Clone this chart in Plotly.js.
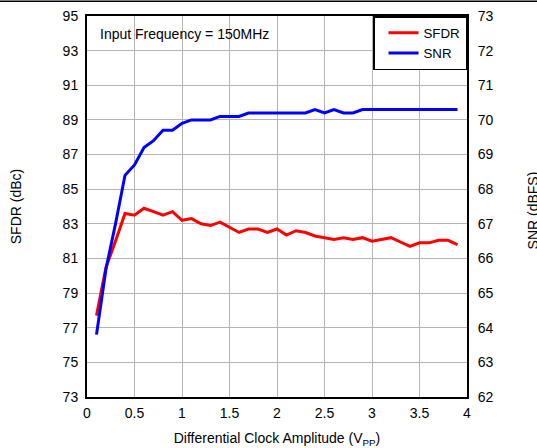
<!DOCTYPE html>
<html>
<head>
<meta charset="utf-8">
<script src="https://cdn.plot.ly/plotly-3.0.1.min.js"></script>
<style>
html,body{margin:0;padding:0;background:#fff;}
#chart{width:537px;height:448px;}
</style>
</head>
<body>
<div id="chart"></div>
<script>
// Differential clock amplitude (Vpp)
const amplitude = [0.1,0.2,0.3,0.4,0.5,0.6,0.7,0.8,0.9,1.0,1.1,1.2,1.3,1.4,1.5,1.6,1.7,1.8,1.9,2.0,2.1,2.2,2.3,2.4,2.5,2.6,2.7,2.8,2.9,3.0,3.1,3.2,3.3,3.4,3.5,3.6,3.7,3.8,3.9];
// SFDR (dBc), left axis
const sfdr = [77.7,80.5,82.0,83.6,83.5,83.9,83.7,83.5,83.7,83.2,83.3,83.0,82.9,83.1,82.8,82.5,82.7,82.7,82.5,82.7,82.35,82.6,82.5,82.3,82.2,82.1,82.2,82.1,82.2,82.0,82.1,82.2,81.95,81.7,81.9,81.9,82.05,82.05,81.8];
// SNR (dBFS), right axis
const snr = [63.8,65.7,67.0,68.4,68.7,69.2,69.4,69.7,69.7,69.9,70.0,70.0,70.0,70.1,70.1,70.1,70.2,70.2,70.2,70.2,70.2,70.2,70.2,70.3,70.2,70.3,70.2,70.2,70.3,70.3,70.3,70.3,70.3,70.3,70.3,70.3,70.3,70.3,70.3];
const xTicks = [0,0.5,1,1.5,2,2.5,3,3.5,4];
const xTickText = ['0','0.5','1','1.5','2','2.5','3','3.5','4'];
const leftTicks = [73,75,77,79,81,83,85,87,89,91,93,95];
const rightTicks = [62,63,64,65,66,67,68,69,70,71,72,73];

const FONT = '"Liberation Sans", Arial, sans-serif';

const traces = [
  {x: amplitude, y: sfdr, name: 'SFDR', type: 'scatter', mode: 'lines',
   line: {color: '#ff0000', width: 3}, yaxis: 'y'},
  {x: amplitude, y: snr, name: 'SNR', type: 'scatter', mode: 'lines',
   line: {color: '#0000ff', width: 3}, yaxis: 'y2'}
];

const layout = {
  width: 537, height: 448,
  margin: {l: 87, r: 70, t: 16, b: 51, pad: 0},
  paper_bgcolor: '#fff', plot_bgcolor: '#fff',
  font: {family: FONT, size: 14, color: '#000'},
  showlegend: true,
  legend: {x: 1, y: 1, xanchor: 'right', yanchor: 'top',
    bgcolor: '#fff', bordercolor: '#000', borderwidth: 1.5,
    font: {family: FONT, size: 13.3, color: '#000'},
    tracegroupgap: 0, itemwidth: 30, indentation: 9},
  xaxis: {
    range: [0, 4], tickvals: xTicks, ticktext: xTickText,
    showgrid: true, gridcolor: '#b4b4b4', gridwidth: 1,
    showline: true, linecolor: '#000', linewidth: 2, mirror: true,
    ticks: 'outside', ticklen: 2, tickcolor: 'rgba(0,0,0,0)',
    zeroline: false, fixedrange: true,
    title: {text: 'Differential Clock Amplitude (V<sub>PP</sub>)', font: {family: FONT, size: 14}, standoff: 18}
  },
  yaxis: {
    range: [73, 95], tickvals: leftTicks,
    showgrid: true, gridcolor: '#b4b4b4', gridwidth: 1,
    showline: true, linecolor: '#000', linewidth: 2, mirror: true,
    ticks: 'outside', ticklen: 4, tickcolor: 'rgba(0,0,0,0)',
    zeroline: false, fixedrange: true,
    title: {text: 'SFDR (dBc)', font: {family: FONT, size: 14}, standoff: 38}
  },
  yaxis2: {
    range: [62, 73], tickvals: rightTicks, overlaying: 'y', side: 'right',
    showgrid: false, zeroline: false, showline: false,
    ticks: 'outside', ticklen: 7, tickcolor: 'rgba(0,0,0,0)', fixedrange: true
  },
  annotations: [
    {text: 'Input Frequency = 150MHz', xref: 'paper', yref: 'paper',
     x: 0.028, y: 0.953, xanchor: 'left', yanchor: 'middle', showarrow: false,
     font: {family: FONT, size: 14, color: '#000'}},
    {text: 'SNR (dBFS)', xref: 'paper', yref: 'paper', textangle: -90,
     x: 1.174, y: 0.49, xanchor: 'center', yanchor: 'middle', showarrow: false,
     font: {family: FONT, size: 14, color: '#000'}}
  ],
  shapes: [
    {type: 'line', xref: 'paper', yref: 'paper', x0: -0.25, x1: 1.2, y0: 1.039, y1: 1.039,
     line: {color: '#000', width: 1.5}}
  ]
};

Plotly.newPlot('chart', traces, layout, {displayModeBar: false, staticPlot: true});
</script>
</body>
</html>
